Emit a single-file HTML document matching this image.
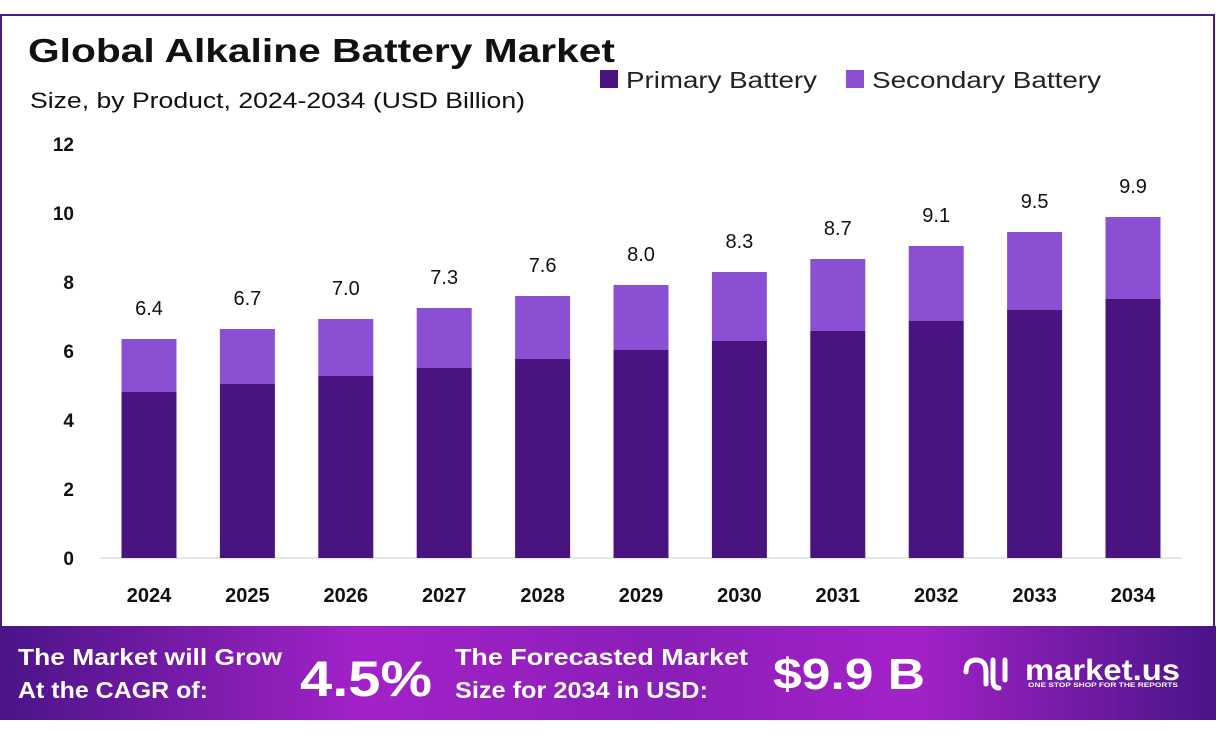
<!DOCTYPE html>
<html><head><style>
body{margin:0;width:1216px;height:743px;background:#fff;overflow:hidden;font-family:"Liberation Sans",sans-serif}
</style></head><body>
<svg width="1216" height="743" xmlns="http://www.w3.org/2000/svg" font-family="Liberation Sans, sans-serif">
<defs>
<linearGradient id="g" x1="0" x2="1" y1="0" y2="0">
<stop offset="0" stop-color="#4a1488"/><stop offset="0.3" stop-color="#a322c8"/><stop offset="0.55" stop-color="#8a1eb8"/><stop offset="0.75" stop-color="#a322c8"/><stop offset="1" stop-color="#4a1488"/>
</linearGradient>
</defs>
<rect x="1" y="15" width="1213" height="612" fill="#fff" stroke="#4b1a8a" stroke-width="2"/>
<text x="28" y="62" font-size="33" font-weight="bold" fill="#111" textLength="587" lengthAdjust="spacingAndGlyphs">Global Alkaline Battery Market</text>
<text x="30" y="108" font-size="22" fill="#111" textLength="495" lengthAdjust="spacingAndGlyphs">Size, by Product, 2024-2034 (USD Billion)</text>
<rect x="600" y="70" width="18" height="18" fill="#4a1480"/>
<text x="626" y="88" font-size="23" fill="#222" textLength="191" lengthAdjust="spacingAndGlyphs">Primary Battery</text>
<rect x="846" y="70" width="18" height="18" fill="#8a4fd2"/>
<text x="872" y="88" font-size="23" fill="#222" textLength="229" lengthAdjust="spacingAndGlyphs">Secondary Battery</text>
<g font-size="19" font-weight="bold" fill="#111" text-anchor="end">
<text x="74" y="151">12</text><text x="74" y="220">10</text><text x="74" y="289">8</text><text x="74" y="358">6</text><text x="74" y="427">4</text><text x="74" y="496">2</text><text x="74" y="565">0</text>
</g>
<line x1="100" y1="558" x2="1182" y2="558" stroke="#ccc" stroke-width="1"/>
<g id="bars"></g>
<g font-size="20" fill="#111" text-anchor="middle" id="lbl"></g>
<rect x="0" y="626" width="1216" height="94" fill="url(#g)"/>
<g fill="#fff" font-weight="bold">
<text x="18" y="665" font-size="23" textLength="264" lengthAdjust="spacingAndGlyphs">The Market will Grow</text>
<text x="18" y="698" font-size="23" textLength="190" lengthAdjust="spacingAndGlyphs">At the CAGR of:</text>
<text x="300" y="696" font-size="50" textLength="132" lengthAdjust="spacingAndGlyphs">4.5%</text>
<text x="455" y="665" font-size="23" textLength="293" lengthAdjust="spacingAndGlyphs">The Forecasted Market</text>
<text x="455" y="698" font-size="23" textLength="253" lengthAdjust="spacingAndGlyphs">Size for 2034 in USD:</text>
<text x="773" y="689" font-size="44" textLength="152" lengthAdjust="spacingAndGlyphs">$9.9 B</text>
<text x="1025" y="680" font-size="30" textLength="155" lengthAdjust="spacingAndGlyphs">market.us</text>
<text x="1028" y="687" font-size="6" textLength="150" lengthAdjust="spacingAndGlyphs">ONE STOP SHOP FOR THE REPORTS</text>
<path d="M966 672 q0-12 10-12 q10 0 10 12 v12 M993 660 v20 q0 8 6 8 M1005 660 v20" stroke="#fff" stroke-width="5" fill="none" stroke-linecap="round"/>
</g>
<script>
var d=[[2024,392,339,"6.4"],[2025,384,329,"6.7"],[2026,376,319,"7.0"],[2027,368,308,"7.3"],[2028,359,296,"7.6"],[2029,350,285,"8.0"],[2030,341,272,"8.3"],[2031,331,259,"8.7"],[2032,321,246,"9.1"],[2033,310,232,"9.5"],[2034,299,217,"9.9"]];
var ns="http://www.w3.org/2000/svg",b=document.getElementById("bars"),l=document.getElementById("lbl");
function el(t,a,p,tx){var e=document.createElementNS(ns,t);for(var k in a)e.setAttribute(k,a[k]);if(tx)e.textContent=tx;p.appendChild(e);}
d.forEach(function(r,i){var c=149+i*98.4;
el("rect",{x:c-27.5,y:r[2],width:55,height:r[1]-r[2],fill:"#8a4fd2"},b);
el("rect",{x:c-27.5,y:r[1],width:55,height:558-r[1],fill:"#4a1480"},b);
el("text",{x:c,y:r[2]-24},l,r[3]);
el("text",{x:c,y:602,"font-weight":"bold","font-size":"20"},l,String(r[0]));});
</script>
</svg>
</body></html>
